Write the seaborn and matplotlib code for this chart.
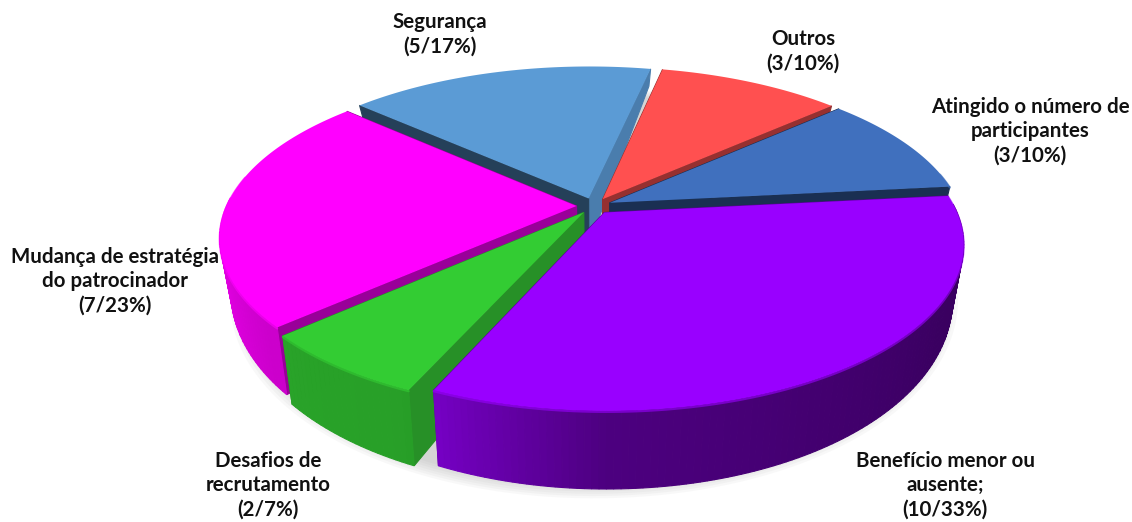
import numpy as np
import matplotlib.pyplot as plt
from matplotlib.colors import to_rgb
import seaborn as sns

labels = ['Outros', 'Atingido o número de\nparticipantes', 'Benefício menor ou\nausente;',
          'Desafios de\nrecrutamento', 'Mudança de estratégia\ndo patrocinador', 'Segurança']
counts = [3, 3, 10, 2, 7, 5]
shares = [10, 10, 33, 7, 23, 17]
top_colors = ['#FF5050', '#4070BE', '#9900FF', '#33CC33', '#FF00FF', '#5B9BD5']
cut_a = ['#963030', '#1A2F52', '#5A0096', '#279027', '#990099', '#4A7DAD']
cut_b = ['#963030', '#1A2F52', '#5A0096', '#279027', '#990099', '#254059']
label_xy = [(803, 51), (1030, 131), (945, 485), (268, 485), (115, 281), (440, 34)]

# camera of the fake 3d view, in pixels
CX, CY = 594, 206
R = 350
KY = 159
P = 0.185
H = 47.5


def project(x, y, z=0.0):
    x, y = np.asarray(x), np.asarray(y)
    d = 1 + P * y
    sx = x * R / d
    sy = -KY * y / d
    wall = z * H * (1 - 0.62 * y)
    return CX + sx * (1 - 0.03 * z), CY + sy + wall


def shade(color, f):
    return tuple(np.clip(np.array(to_rgb(color)) * f, 0, 1))


def wall_level(theta):
    clock = (90 - theta) % 360
    return np.interp(clock, [85, 120, 180, 205, 230, 270, 320], [0.36, 0.38, 0.5, 0.78, 0.8, 0.95, 1.0])


sns.set_theme(style='white')
fig = plt.figure(figsize=(11.32, 5.22), dpi=100)
ax = fig.add_axes([0, 0, 1, 1])
wedges, _ = ax.pie(counts, explode=[0.05] * len(counts), startangle=78, counterclock=False)
slices = [(w.center, w.theta1, w.theta2) for w in wedges]
for w in wedges:
    w.remove()
ax.set_aspect('auto')
ax.set_xlim(0, 1132)
ax.set_ylim(522, 0)
ax.axis('off')

# soft shadow below the base
t = np.radians(np.linspace(0, 360, 200))
for grow in np.linspace(1.05, 1.0, 7):
    sx, sy = project(np.cos(t) * grow, np.sin(t) * grow - 0.01, 1.0)
    ax.fill(sx, sy + 4, color='#808080', alpha=0.05, lw=0, zorder=1)

order = sorted(range(len(slices)), key=lambda i: -(slices[i][0][1]))
z = 2
for i in order:
    (cx, cy), th1, th2 = slices[i]
    angs = np.linspace(th1, th2, max(int(th2 - th1), 2) + 1)
    ax_x = cx + np.cos(np.radians(angs))
    ax_y = cy + np.sin(np.radians(angs))

    faces = []
    for th, col in ((th1, cut_a[i]), (th2, cut_b[i])):
        ex, ey = cx + np.cos(np.radians(th)), cy + np.sin(np.radians(th))
        faces.append(((cy + ey) / 2, np.array([cx, ex, ex, cx]), np.array([cy, ey, ey, cy]),
                      np.array([0, 0, 1, 1.0]), col))
    for j in range(len(angs) - 1):
        mid = (angs[j] + angs[j + 1]) / 2
        # the outer wall at the back of the pie is hidden
        if np.sin(np.radians(mid)) > 0.05:
            continue
        faces.append(((ax_y[j] + ax_y[j + 1]) / 2, np.array([ax_x[j], ax_x[j + 1], ax_x[j + 1], ax_x[j]]),
                      np.array([ax_y[j], ax_y[j + 1], ax_y[j + 1], ax_y[j]]), np.array([0, 0, 1, 1.0]),
                      shade(top_colors[i], wall_level(mid))))
    for _, fx, fy, fz, col in sorted(faces, key=lambda f: -f[0]):
        px, py = project(fx, fy, fz)
        ax.fill(px, py, facecolor=col, edgecolor=col, lw=0.8, zorder=z)
        z += 1

    tx, ty = project(np.r_[cx, ax_x], np.r_[cy, ax_y])
    ax.fill(tx, ty, color=top_colors[i], lw=0, zorder=z)
    z += 1
    # light bevel on the front rim
    front = ax_y < cy + 0.2
    if front.any():
        rx, ry = project(ax_x[front], ax_y[front])
        ax.plot(rx, ry + 1, color=shade(top_colors[i], 1.0), lw=1.6, alpha=0.6, zorder=z, solid_capstyle='round')
        z += 1

for lab, n, pct, (x, y) in zip(labels, counts, shares, label_xy):
    ax.text(x, y, f'{lab}\n({n}/{pct}%)', ha='center', va='center', multialignment='center',
            fontsize=14.8, fontweight='bold', family='Lato', color='#111111', linespacing=1.27, zorder=z + 1)

fig.savefig('out.png', dpi=100)
